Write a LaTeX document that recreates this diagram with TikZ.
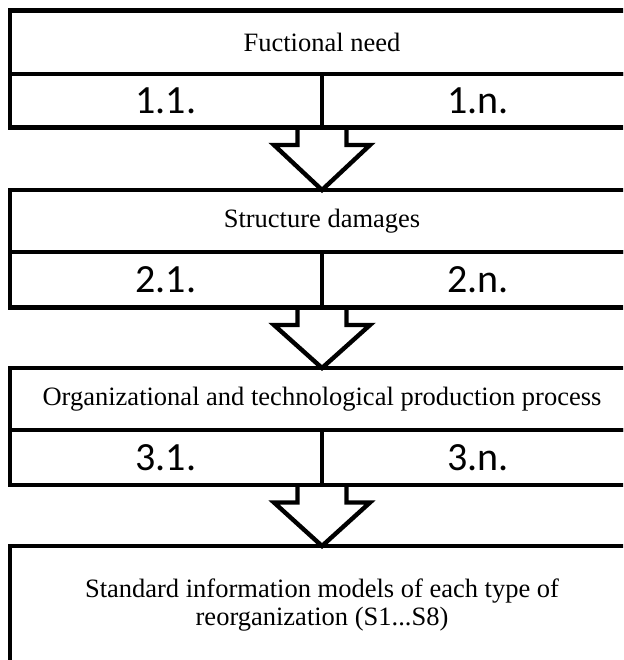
\documentclass[tikz,border=0pt]{standalone}
\usepackage{fontspec}
\setmainfont{Liberation Serif}
\newfontfamily\numfont{Carlito}
\usetikzlibrary{calc}
\tikzset{
  box/.style={draw=black, line width=4.6pt, anchor=north west, inner sep=0pt, outer sep=0pt},
  headbox/.style={box, minimum width=624pt, font=\fontsize{26.5}{28}\selectfont},
  numbox/.style={box, minimum width=312pt, font=\numfont\fontsize{40}{42}\selectfont},
  blockarrow/.style={draw=black, line width=4.4pt, line join=miter}
}
\begin{document}
\begin{tikzpicture}[x=1pt,y=-1pt]
\useasboundingbox (0,0) rectangle (623,660);
\clip (0,0) rectangle (623,660);
% box 1
\node[headbox, minimum height=63.5pt] (h1) at (10,10.5) {Fuctional need};
\node[numbox, minimum height=53.5pt] (l1) at (10,74) {1.1.};
\node[numbox, minimum height=53.5pt] (r1) at (322,74) {1.n.};
% box 2
\node[headbox, minimum height=62pt] (h2) at (10,190) {Structure damages};
\node[numbox, minimum height=55.5pt] (l2) at (10,252) {2.1.};
\node[numbox, minimum height=55.5pt] (r2) at (322,252) {2.n.};
% box 3
\node[headbox, minimum height=62pt] (h3) at (10,368) {Organizational and technological production process};
\node[numbox, minimum height=55pt] (l3) at (10,430) {3.1.};
\node[numbox, minimum height=55pt] (r3) at (322,430) {3.n.};
% box 4
\node[headbox, minimum height=160pt] (h4) at (10,546) {};
\node[font=\fontsize{26.5}{28}\selectfont, align=center, inner sep=0pt] (t4) at (322,605)
  {Standard information models of each type of\\reorganization (S1...S8)};
% arrows
\foreach \s/\t in {l1/h2, l2/h3, l3/h4}{
  \draw[blockarrow] ($(\s.south east)+(-24.5,0)$) -- ++(0,17.5) -- ++(-23.5,0)
    -- (\t.north) -- ($(\s.south east)+(48,17.5)$) -- ++(-23.5,0) -- ++(0,-17.5);
}
\end{tikzpicture}
\end{document}
